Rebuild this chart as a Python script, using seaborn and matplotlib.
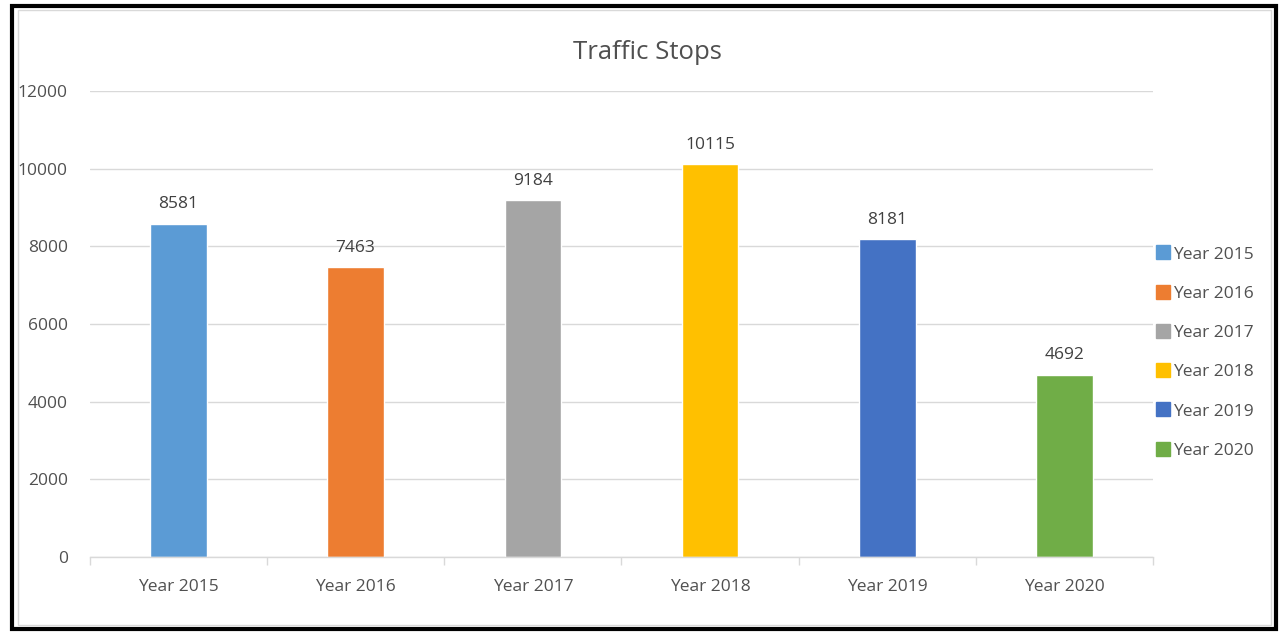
import matplotlib
matplotlib.use("Agg")
import matplotlib.pyplot as plt
import seaborn as sns
import pandas as pd
from matplotlib.patches import Rectangle
from matplotlib.lines import Line2D

years = ["Year 2015", "Year 2016", "Year 2017", "Year 2018", "Year 2019", "Year 2020"]
stops = [8581, 7463, 9184, 10115, 8181, 4692]
colors = ["#5B9BD5", "#ED7D31", "#A5A5A5", "#FFC000", "#4472C4", "#70AD47"]

df = pd.DataFrame({"year": years, "stops": stops})

sns.set_style("white")
plt.rcParams['font.family'] = ['Open Sans', 'DejaVu Sans']
txt = "#505050"

fig = plt.figure(figsize=(12.84, 6.33), dpi=100)
ax = fig.add_axes([0.070, 0.120, 0.828, 0.736])

sns.barplot(data=df, x="year", y="stops", hue="year", palette=colors,
            dodge=False, width=0.32, legend=False, ax=ax, saturation=1)

# value labels above each bar
for i, v in enumerate(stops):
    ax.text(i, v + 300, str(v), ha="center", va="bottom", fontsize=12.5, color="#404040")

ax.set_ylim(0, 12000)
ax.set_xlim(-0.5, 5.5)
ax.set_yticks(range(0, 12001, 2000))
ax.yaxis.grid(True, color="#D9D9D9", linewidth=1)
ax.set_axisbelow(True)
for s in ["top", "right", "left"]:
    ax.spines[s].set_visible(False)
ax.spines["bottom"].set_color("#D9D9D9")
ax.spines["bottom"].set_linewidth(1)
ax.tick_params(axis="y", length=0, labelsize=12.5, labelcolor=txt, pad=16)
ax.tick_params(axis="x", which="major", length=0, labelsize=12.5, labelcolor=txt, pad=16)
ax.set_xticks([i - 0.5 for i in range(7)], minor=True)
ax.tick_params(axis="x", which="minor", bottom=True, length=6, color="#D9D9D9", width=1)
ax.set_xlabel("")
ax.set_ylabel("")

fig.suptitle("Traffic Stops", x=0.504, y=0.937, fontsize=18.5, color=txt)

handles = [Line2D([0], [0], marker="s", linestyle="", markersize=10,
                  markerfacecolor=c, markeredgecolor=c) for c in colors]
fig.legend(handles, years, loc="center left", bbox_to_anchor=(0.887, 0.443),
           frameon=False, fontsize=12.5, labelcolor=txt, handletextpad=0.05,
           labelspacing=1.33, handlelength=1.0)

fig.patches.append(Rectangle((0.009, 0.006), 0.985, 0.985, transform=fig.transFigure,
                             fill=False, edgecolor="black", linewidth=3))
fig.patches.append(Rectangle((0.014, 0.012), 0.976, 0.972, transform=fig.transFigure,
                             fill=False, edgecolor="#D9D9D9", linewidth=1))

fig.savefig("out.png", dpi=100)
